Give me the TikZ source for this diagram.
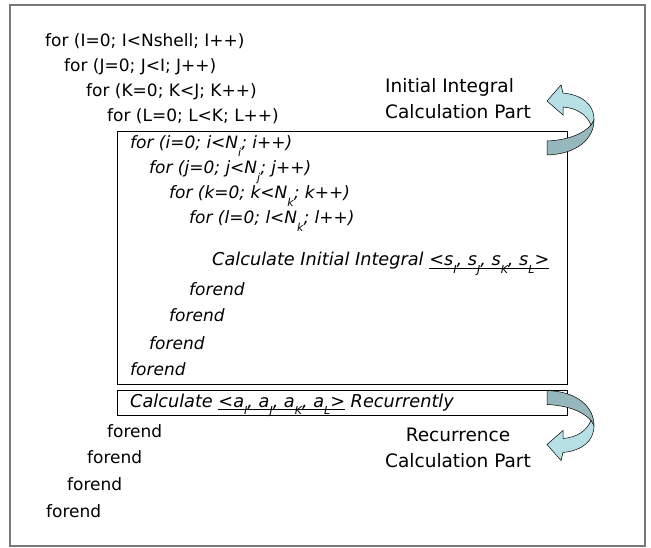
\documentclass[tikz,border=0pt]{standalone}
\usepackage{fontspec}
\setmainfont{DejaVu Sans}
\newcommand\sbs[1]{\raisebox{-0.45em}{\fontsize{11}{11}\selectfont #1}}
\newcommand\ulin[1]{\setbox0\hbox{#1}\rlap{\rule[-2.5pt]{\wd0}{0.8pt}}\box0\relax}
\definecolor{arrdark}{RGB}{150,184,188}
\definecolor{arrlight}{RGB}{182,224,228}
\definecolor{framegray}{RGB}{120,120,120}
\tikzset{
  code/.style={anchor=base west, inner sep=0pt, font=\fontsize{17}{20}\selectfont},
  icode/.style={code, font=\fontsize{17}{20}\selectfont\itshape},
  wcode/.style={code, font=\fontsize{17.7}{20}\selectfont\itshape},
  lbl/.style={anchor=base, inner sep=0pt, font=\fontsize{18.5}{22}\selectfont},
  lblw/.style={lbl, anchor=base west},
  partbox/.style={draw=black, line width=0.8pt},
  backband/.style={fill=arrdark, draw=black, line width=0.5pt},
  frontband/.style={fill=arrlight, draw=black, line width=0.5pt}
}
\newcommand\curvedarrow{%
  \path[backband] (0,7) .. controls (31,6) and (47,-10) .. (47,-28) -- (44,-23)
     .. controls (36,-14) and (21,-8) .. (0,-7) -- cycle;
  \path[frontband] (47,-28) .. controls (47,-44) and (35,-53) .. (16,-55) -- (14,-63)
     -- (0,-47) -- (16,-33) -- (16,-41) .. controls (30,-40) and (40,-33) .. (44,-23) -- cycle;
}
\begin{document}
\begin{tikzpicture}[x=1pt,y=-1pt]
\useasboundingbox (0,0) rectangle (651,548);
\fill[white] (0,0) rectangle (651,548);
\draw[framegray, line width=1.2pt] (10,5) rectangle (645,546);

% boxes
\draw[partbox] (117,131) rectangle (567,384);
\draw[partbox] (117,390) rectangle (567,415);

% outer loops
\node[code] (l1) at (45,47) {for (I=0; I<Nshell; I++)};
\node[code] (l2) at (64,72) {for (J=0; J<I; J++)};
\node[code] (l3) at (86,97) {for (K=0; K<J; K++)};
\node[code] (l4) at (107,122) {for (L=0; L<K; L++)};

% inner loops
\node[icode] (i1) at (130,149) {for (i=0; i<N\sbs{i}; i++)};
\node[icode] (i2) at (149,174) {for (j=0; j<N\sbs{j}; j++)};
\node[icode] (i3) at (169,199) {for (k=0; k<N\sbs{k}; k++)};
\node[icode] (i4) at (189,224) {for (l=0; l<N\sbs{k}; l++)};
\node[wcode] (calc) at (212,266) {Calculate Initial Integral \ulin{<s\sbs{I}, s\sbs{J}, s\sbs{K}, s\sbs{L}>}};
\node[icode] (e4) at (189,295) {forend};
\node[icode] (e3) at (169,322) {forend};
\node[icode] (e2) at (149,349) {forend};
\node[icode] (e1) at (130,375) {forend};

\node[wcode] (rec) at (130,407) {Calculate \ulin{<a\sbs{I}, a\sbs{J}, a\sbs{K}, a\sbs{L}>} Recurrently};

\node[code] (f4) at (107,437) {forend};
\node[code] (f3) at (87,463) {forend};
\node[code] (f2) at (67,490) {forend};
\node[code] (f1) at (46,517) {forend};

% labels
\node[lblw] (ini1) at (385,93) {Initial Integral};
\node[lblw] (ini2) at (385,119) {Calculation Part};
\node[lbl] (rc1) at (458,441) {Recurrence};
\node[lbl] (rc2) at (458,467) {Calculation Part};

% curved block arrows
\begin{scope}[shift={(547,148)}]
  \curvedarrow
\end{scope}
\begin{scope}[shift={(547,397.5)}, yscale=-1]
  \curvedarrow
\end{scope}
\end{tikzpicture}
\end{document}
